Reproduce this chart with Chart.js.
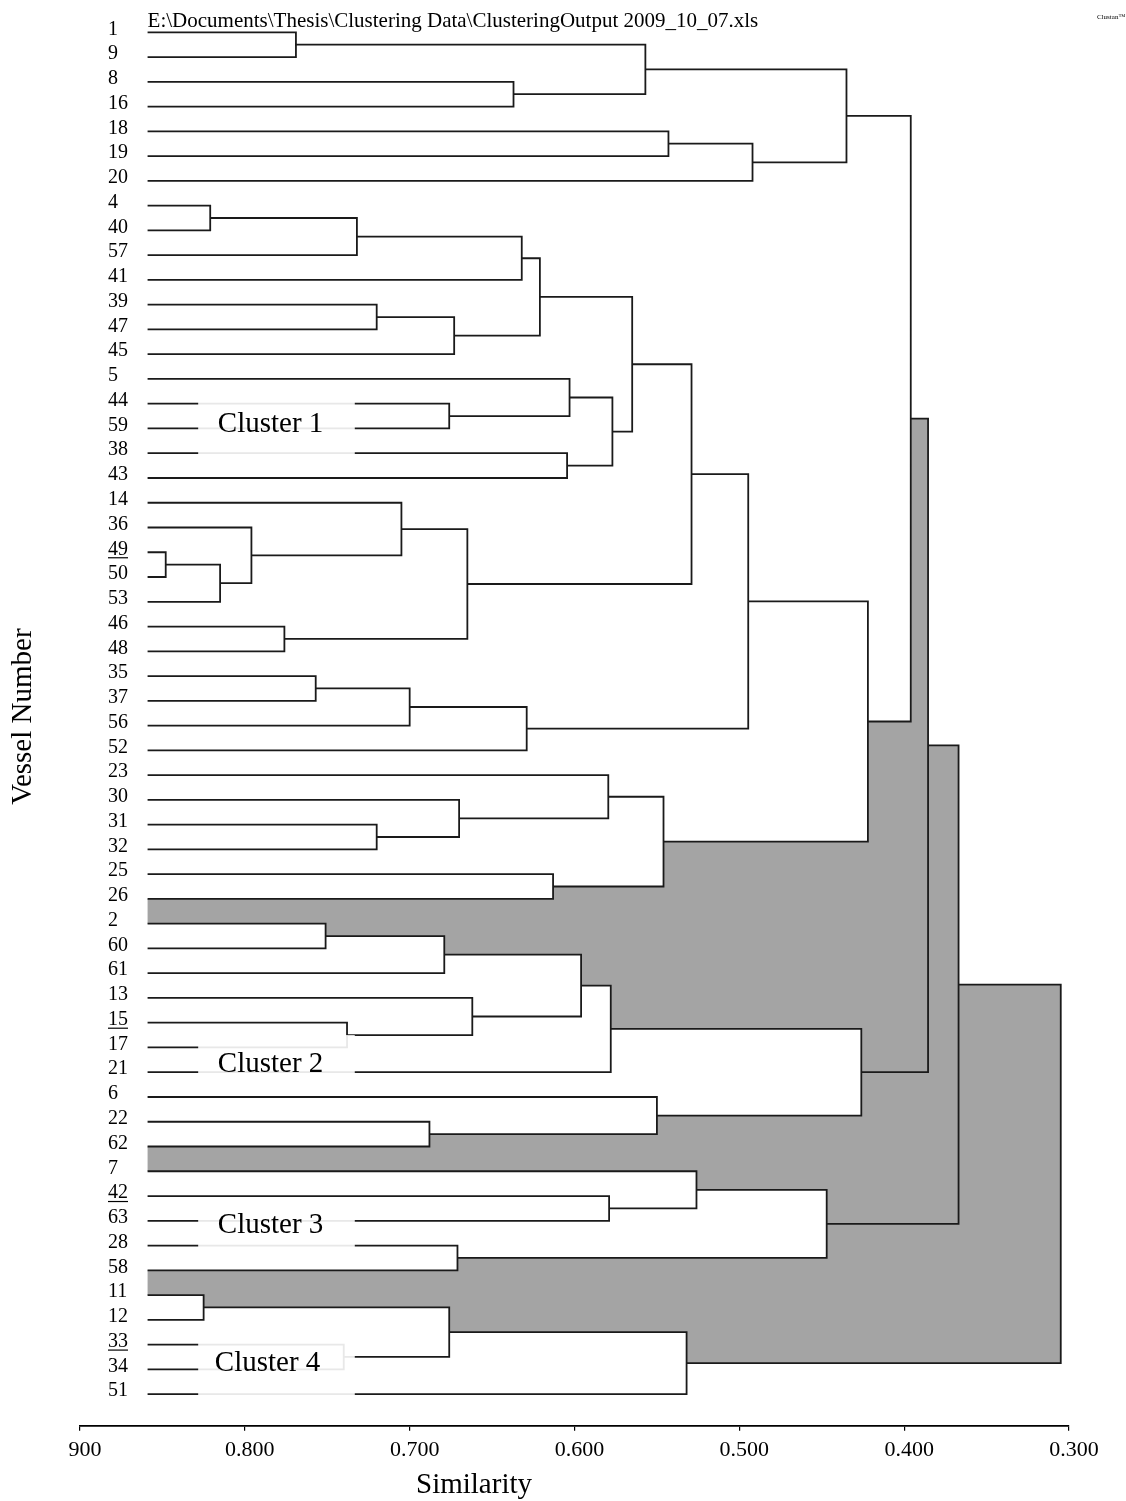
<!DOCTYPE html>
<html>
<head>
<meta charset="utf-8">
<script src="https://cdn.jsdelivr.net/npm/chart.js@4.4.1/dist/chart.umd.min.js"></script>
<style>
  html, body { margin: 0; padding: 0; background: #ffffff; }
  #wrap { position: relative; width: 1126px; height: 1501px; }
</style>
</head>
<body>
<div id="wrap"><canvas id="c"></canvas></div>
<script>
// ---------------- data ----------------
const LEAVES = ['1','9','8','16','18','19','20','4','40','57','41','39','47','45','5','44','59','38','43',
  '14','36','49','50','53','46','48','35','37','56','52','23','30','31','32','25','26',
  '2','60','61','13','15','17','21','6','22','62','7','42','63','28','58','11','12','33','34','51'];
const UNDERLINED = ['49','15','42','33'];
const LEAF_START = 0.859;           // similarity where leaf lines begin
// merges: [upper child, lower child, similarity]; merge k is referred to as 'm' + k
const MERGES = [
  ['49','50',0.848], ['4','40',0.821], ['11','12',0.825], ['m0','53',0.815], ['36','m3',0.796],
  ['46','48',0.776], ['1','9',0.769], ['35','37',0.757], ['2','60',0.751], ['33','34',0.740],
  ['15','17',0.738], ['m1','57',0.732], ['39','47',0.720], ['31','32',0.720], ['14','m4',0.705],
  ['m7','56',0.700], ['22','62',0.688], ['m8','61',0.679], ['44','59',0.676], ['m2','m9',0.676],
  ['m12','45',0.673], ['28','58',0.671], ['30','m13',0.670], ['m14','m5',0.665], ['13','m10',0.662],
  ['8','16',0.637], ['m11','41',0.632], ['m15','52',0.629], ['m26','m20',0.621], ['25','26',0.613],
  ['38','43',0.6045], ['5','m18',0.603], ['m17','m24',0.596], ['23','m22',0.5795], ['42','63',0.579],
  ['m32','21',0.578], ['m31','m30',0.577], ['m28','m36',0.565], ['m6','m25',0.557], ['6','m16',0.550],
  ['m33','m29',0.546], ['18','19',0.543], ['m37','m23',0.529], ['m19','51',0.532], ['7','m34',0.526],
  ['m42','m27',0.4946], ['m41','20',0.492], ['m44','m21',0.447], ['m38','m46',0.435], ['m35','m39',0.426],
  ['m45','m40',0.422], ['m48','m50',0.396], ['m51','m49',0.3855], ['m52','m47',0.367], ['m53','m43',0.305]
];
const CLUSTER_JOINS = ['m52','m53','m54'];   // links joining the four clusters (shaded)
const CLUSTER_NAMES = ['Cluster 1','Cluster 2','Cluster 3','Cluster 4'];
const X_TICKS = [0.9, 0.8, 0.7, 0.6, 0.5, 0.4, 0.3];
const X_TICK_LABELS = ['900','0.800','0.700','0.600','0.500','0.400','0.300'];
const HEADER = 'E:\\Documents\\Thesis\\Clustering Data\\ClusteringOutput 2009_10_07.xls';

// ---------------- layout / styles ----------------
const SERIF = '"Liberation Serif", "Times New Roman", Times, serif';
const LABEL_LAYOUT = [
  {x0: 0.8283, x1: 0.7333, r0: 14.6, r1: 17.4, tx: 0.8164, ty: 16.14},
  {x0: 0.8283, x1: 0.7333, r0: 40.5, r1: 42.45, tx: 0.8164, ty: 41.98},
  {x0: 0.8283, x1: 0.7333, r0: 47.5, r1: 49.45, tx: 0.8164, ty: 48.49},
  {x0: 0.8283, x1: 0.7333, r0: 52.6, r1: 55.45, tx: 0.8182, ty: 54.07}
];

// ---------------- tree geometry (value space) ----------------
const pos = {};
LEAVES.forEach((name, i) => { pos[name] = {x: LEAF_START, y: i}; });
MERGES.forEach(([a, b, s], k) => {
  pos['m' + k] = {x: s, y: (pos[a].y + pos[b].y) / 2, up: a, down: b};
});
function lowerEdge(n) {
  const p = pos[n];
  if (!p.down) return [{x: p.x, y: p.y}];
  return [{x: p.x, y: p.y}, {x: p.x, y: pos[p.down].y}, ...lowerEdge(p.down)];
}
function upperEdge(n) {
  const p = pos[n];
  if (!p.up) return [{x: p.x, y: p.y}];
  return [{x: p.x, y: p.y}, {x: p.x, y: pos[p.up].y}, ...upperEdge(p.up)];
}
function gapPolygon(n) {
  const p = pos[n], a = pos[p.up], b = pos[p.down];
  return [{x: p.x, y: a.y}, ...lowerEdge(p.up), ...upperEdge(p.down).reverse(),
          {x: p.x, y: b.y}, {x: p.x, y: a.y}];
}
const linkPoints = [];
MERGES.forEach(([a, b, s]) => {
  const pa = pos[a], pb = pos[b];
  linkPoints.push({x: pa.x, y: pa.y}, {x: s, y: pa.y}, {x: s, y: pb.y}, {x: pb.x, y: pb.y}, {x: s, y: null});
});

const datasets = CLUSTER_JOINS.map(n => ({
  label: 'shade ' + n,
  data: gapPolygon(n),
  fill: 'shape',
  backgroundColor: '#a4a4a4',
  borderColor: 'rgba(0,0,0,0)',
  borderWidth: 0,
  pointRadius: 0,
  tension: 0,
  order: 2
}));
datasets.push({
  label: 'links',
  data: linkPoints,
  fill: false,
  borderColor: '#1a1a1a',
  borderWidth: 1.8,
  pointRadius: 0,
  tension: 0,
  spanGaps: false,
  order: 0
});

const decor = {
  id: 'decor',
  afterDatasetsDraw(chart) {
    const {ctx, scales: {x, y}} = chart;
    ctx.save();
    CLUSTER_NAMES.forEach((name, i) => {
      const b = LABEL_LAYOUT[i];
      const x0 = x.getPixelForValue(b.x0), x1 = x.getPixelForValue(b.x1);
      const y0 = y.getPixelForValue(b.r0), y1 = y.getPixelForValue(b.r1);
      ctx.fillStyle = 'rgba(255,255,255,0.9)';
      ctx.fillRect(x0, y0, x1 - x0, y1 - y0);
      ctx.fillStyle = '#000';
      ctx.font = '29px ' + SERIF;
      ctx.textAlign = 'left';
      ctx.textBaseline = 'alphabetic';
      ctx.fillText(name, x.getPixelForValue(b.tx), y.getPixelForValue(b.ty));
    });
    ctx.restore();
  },
  afterDraw(chart) {
    const {ctx, scales: {x, y}} = chart;
    ctx.save();
    ctx.fillStyle = '#000';
    ctx.textAlign = 'left';
    ctx.textBaseline = 'alphabetic';
    ctx.font = '21px ' + SERIF;
    ctx.fillText(HEADER, x.getPixelForValue(LEAF_START), 27);
    ctx.font = '7px ' + SERIF;
    ctx.fillText('Clustan\u2122', 1097, 19);
    ctx.font = '29px ' + SERIF;
    ctx.textAlign = 'center';
    ctx.fillText('Similarity', 474, 1493);
    // underlined vessel numbers
    ctx.font = '20px ' + SERIF;
    ctx.strokeStyle = '#000';
    ctx.lineWidth = 1.2;
    UNDERLINED.forEach(lbl => {
      const i = LEAVES.indexOf(lbl);
      const yy = y.getPixelForValue(i) - 3 + 8.5;
      const w = ctx.measureText(lbl).width;
      ctx.beginPath();
      ctx.moveTo(108, yy);
      ctx.lineTo(108 + w, yy);
      ctx.stroke();
    });
    ctx.restore();
  }
};

new Chart(document.getElementById('c'), {
  type: 'line',
  data: {datasets},
  options: {
    responsive: true,
    maintainAspectRatio: false,
    animation: false,
    events: [],
    layout: {padding: {left: 0, right: 57, top: 7.54, bottom: 0}},
    plugins: {legend: {display: false}, tooltip: {enabled: false}, title: {display: false}},
    scales: {
      x: {
        type: 'linear', reverse: true, min: 0.3, max: 0.9,
        afterBuildTicks: s => { s.ticks = X_TICKS.map(v => ({value: v})); },
        afterFit: s => { s.height = 75.3; },
        ticks: {autoSkip: false, maxRotation: 0, minRotation: 0, padding: 6, labelOffset: 5,
                color: '#000', font: {family: SERIF, size: 22},
                callback: (v, i) => X_TICK_LABELS[i]},
        grid: {display: true, drawOnChartArea: false, drawTicks: true, tickLength: 5,
               color: '#000', tickColor: '#000', lineWidth: 1.2},
        border: {display: true, color: '#000', width: 1.8},
        title: {display: false}
      },
      y: {
        type: 'linear', reverse: true, min: -1, max: 56.276,
        afterBuildTicks: s => { s.ticks = LEAVES.map((_, i) => ({value: i})); },
        afterFit: s => { s.width = 80; s.paddingTop = 0; s.paddingBottom = 0; },
        ticks: {autoSkip: false, mirror: true, padding: 28, labelOffset: -3,
                color: '#000', font: {family: SERIF, size: 20},
                callback: (v, i) => LEAVES[i]},
        grid: {display: false, drawTicks: false},
        border: {display: false},
        title: {display: true, text: 'Vessel Number', color: '#000',
                font: {family: SERIF, size: 29}, padding: {top: 6, bottom: 0}}
      }
    }
  },
  plugins: [decor]
});
</script>
</body>
</html>
